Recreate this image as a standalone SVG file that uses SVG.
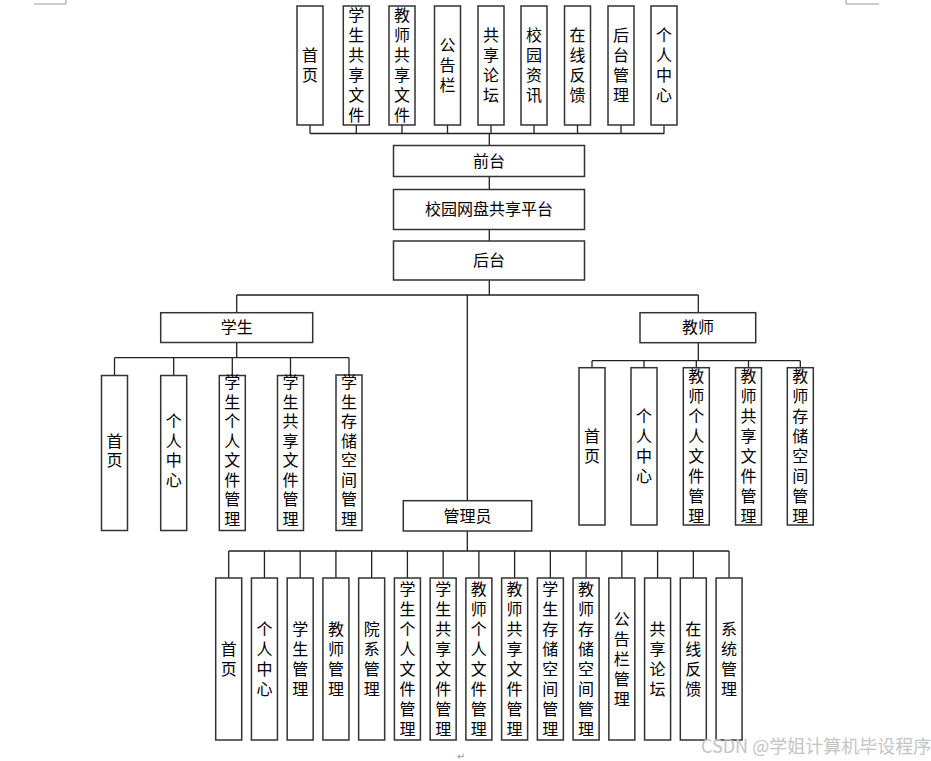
<svg xmlns="http://www.w3.org/2000/svg" width="931" height="761" viewBox="0 0 931 761">
<style>
.box{fill:#fff;stroke:#333;stroke-width:1.5}
.ln{stroke:#222;stroke-width:1.3;fill:none}
.t{font-family:"Noto Sans CJK SC","Noto Sans CJK JP",sans-serif;font-size:16px;fill:#000;text-anchor:middle}
.mark{stroke:#999;stroke-width:1;fill:none}
</style>
<rect width="931" height="761" fill="#fff"/>
<path class="mark" d="M34,4 H66 V0 M846,0 V4 H879"/>
<g id="connectors">
<path class="ln" d="M310,133.5 H664.3 M310,125 V133.5 M356.3,125 V133.5 M402,125 V133.5 M447.5,125 V133.5 M491,125 V133.5 M534,125 V133.5 M577.5,125 V133.5 M621,125 V133.5 M664,125 V133.5"/>
<path class="ln" d="M489.3,133.5 V145.5 M489.3,176.5 V189.5 M489.3,229.5 V241 M489.3,280 V295"/>
<path class="ln" d="M236.7,295 H698.3 M236.7,295 V312.7 M698.3,295 V312.7 M467.3,295 V500.7"/>
<path class="ln" d="M236.7,342.5 V357.7 M114.5,357.7 H349 M114.5,357.7 V375.5 M173.7,357.7 V375.5 M232.3,357.7 V375.5 M290.5,357.7 V375.5 M349,357.7 V375.5"/>
<path class="ln" d="M698.3,342.7 V360.7 M592,360.7 H800.3 M592,360.7 V367.7 M644,360.7 V367.7 M696.3,360.7 V367.7 M748.5,360.7 V367.7 M800.3,360.7 V367.7"/>
<path class="ln" d="M467.3,531 V551 M228.7,551 H729.06 M228.7,551 V578 M264.44,551 V578 M300.18,551 V578 M335.92,551 V578 M371.66,551 V578 M407.4,551 V578 M443.14,551 V578 M478.88,551 V578 M514.62,551 V578 M550.36,551 V578 M586.1,551 V578 M621.84,551 V578 M657.58,551 V578 M693.32,551 V578 M729.06,551 V578"/>
</g>
<g id="f-home"><rect class="box" x="297" y="6" width="26" height="119"/><text class="t" x="310" y="61.1"><tspan x="310">首</tspan><tspan x="310" dy="20">页</tspan></text></g>
<g id="f-stushare"><rect class="box" x="343.3" y="6" width="26" height="119"/><text class="t" x="356.3" y="21.1"><tspan x="356.3">学</tspan><tspan x="356.3" dy="20">生</tspan><tspan x="356.3" dy="20">共</tspan><tspan x="356.3" dy="20">享</tspan><tspan x="356.3" dy="20">文</tspan><tspan x="356.3" dy="20">件</tspan></text></g>
<g id="f-teashare"><rect class="box" x="389" y="6" width="26" height="119"/><text class="t" x="402" y="21.1"><tspan x="402">教</tspan><tspan x="402" dy="20">师</tspan><tspan x="402" dy="20">共</tspan><tspan x="402" dy="20">享</tspan><tspan x="402" dy="20">文</tspan><tspan x="402" dy="20">件</tspan></text></g>
<g id="f-notice"><rect class="box" x="434.5" y="6" width="26" height="119"/><text class="t" x="447.5" y="51.1"><tspan x="447.5">公</tspan><tspan x="447.5" dy="20">告</tspan><tspan x="447.5" dy="20">栏</tspan></text></g>
<g id="f-forum"><rect class="box" x="478" y="6" width="26" height="119"/><text class="t" x="491" y="41.1"><tspan x="491">共</tspan><tspan x="491" dy="20">享</tspan><tspan x="491" dy="20">论</tspan><tspan x="491" dy="20">坛</tspan></text></g>
<g id="f-news"><rect class="box" x="521" y="6" width="26" height="119"/><text class="t" x="534" y="41.1"><tspan x="534">校</tspan><tspan x="534" dy="20">园</tspan><tspan x="534" dy="20">资</tspan><tspan x="534" dy="20">讯</tspan></text></g>
<g id="f-feedback"><rect class="box" x="564.5" y="6" width="26" height="119"/><text class="t" x="577.5" y="41.1"><tspan x="577.5">在</tspan><tspan x="577.5" dy="20">线</tspan><tspan x="577.5" dy="20">反</tspan><tspan x="577.5" dy="20">馈</tspan></text></g>
<g id="f-admin"><rect class="box" x="608" y="6" width="26" height="119"/><text class="t" x="621" y="41.1"><tspan x="621">后</tspan><tspan x="621" dy="20">台</tspan><tspan x="621" dy="20">管</tspan><tspan x="621" dy="20">理</tspan></text></g>
<g id="f-personal"><rect class="box" x="651" y="6" width="26" height="119"/><text class="t" x="664" y="41.1"><tspan x="664">个</tspan><tspan x="664" dy="20">人</tspan><tspan x="664" dy="20">中</tspan><tspan x="664" dy="20">心</tspan></text></g>
<g id="frontend"><rect class="box" x="393.5" y="145.5" width="191" height="31"/><text class="t" x="489" y="166.6">前台</text></g>
<g id="platform"><rect class="box" x="393.5" y="189.5" width="191" height="40"/><text class="t" x="489" y="215.1">校园网盘共享平台</text></g>
<g id="backend"><rect class="box" x="393.5" y="241" width="191" height="39"/><text class="t" x="489" y="266.1">后台</text></g>
<g id="student"><rect class="box" x="160.7" y="312.7" width="152" height="29.8"/><text class="t" x="236.7" y="333.2">学生</text></g>
<g id="s-home"><rect class="box" x="101.5" y="375.5" width="26" height="155"/><text class="t" x="114.5" y="446.85"><tspan x="114.5">首</tspan><tspan x="114.5" dy="19.5">页</tspan></text></g>
<g id="s-personal"><rect class="box" x="160.7" y="375.5" width="26" height="155"/><text class="t" x="173.7" y="427.35"><tspan x="173.7">个</tspan><tspan x="173.7" dy="19.5">人</tspan><tspan x="173.7" dy="19.5">中</tspan><tspan x="173.7" dy="19.5">心</tspan></text></g>
<g id="s-file"><rect class="box" x="219.3" y="375.5" width="26" height="155"/><text class="t" x="232.3" y="388.35"><tspan x="232.3">学</tspan><tspan x="232.3" dy="19.5">生</tspan><tspan x="232.3" dy="19.5">个</tspan><tspan x="232.3" dy="19.5">人</tspan><tspan x="232.3" dy="19.5">文</tspan><tspan x="232.3" dy="19.5">件</tspan><tspan x="232.3" dy="19.5">管</tspan><tspan x="232.3" dy="19.5">理</tspan></text></g>
<g id="s-share"><rect class="box" x="277.5" y="375.5" width="26" height="155"/><text class="t" x="290.5" y="388.35"><tspan x="290.5">学</tspan><tspan x="290.5" dy="19.5">生</tspan><tspan x="290.5" dy="19.5">共</tspan><tspan x="290.5" dy="19.5">享</tspan><tspan x="290.5" dy="19.5">文</tspan><tspan x="290.5" dy="19.5">件</tspan><tspan x="290.5" dy="19.5">管</tspan><tspan x="290.5" dy="19.5">理</tspan></text></g>
<g id="s-storage"><rect class="box" x="336" y="375" width="26" height="155.5"/><text class="t" x="349" y="388.35"><tspan x="349">学</tspan><tspan x="349" dy="19.5">生</tspan><tspan x="349" dy="19.5">存</tspan><tspan x="349" dy="19.5">储</tspan><tspan x="349" dy="19.5">空</tspan><tspan x="349" dy="19.5">间</tspan><tspan x="349" dy="19.5">管</tspan><tspan x="349" dy="19.5">理</tspan></text></g>
<g id="teacher"><rect class="box" x="640" y="312.7" width="115.7" height="30"/><text class="t" x="698" y="333.3">教师</text></g>
<g id="t-home"><rect class="box" x="579" y="367.7" width="26" height="157.3"/><text class="t" x="592" y="441.9"><tspan x="592">首</tspan><tspan x="592" dy="20">页</tspan></text></g>
<g id="t-personal"><rect class="box" x="631" y="367.7" width="26" height="157.3"/><text class="t" x="644" y="421.9"><tspan x="644">个</tspan><tspan x="644" dy="20">人</tspan><tspan x="644" dy="20">中</tspan><tspan x="644" dy="20">心</tspan></text></g>
<g id="t-file"><rect class="box" x="683.3" y="367.7" width="26" height="157.3"/><text class="t" x="696.3" y="381.9"><tspan x="696.3">教</tspan><tspan x="696.3" dy="20">师</tspan><tspan x="696.3" dy="20">个</tspan><tspan x="696.3" dy="20">人</tspan><tspan x="696.3" dy="20">文</tspan><tspan x="696.3" dy="20">件</tspan><tspan x="696.3" dy="20">管</tspan><tspan x="696.3" dy="20">理</tspan></text></g>
<g id="t-share"><rect class="box" x="735.5" y="367.7" width="26" height="157.3"/><text class="t" x="748.5" y="381.9"><tspan x="748.5">教</tspan><tspan x="748.5" dy="20">师</tspan><tspan x="748.5" dy="20">共</tspan><tspan x="748.5" dy="20">享</tspan><tspan x="748.5" dy="20">文</tspan><tspan x="748.5" dy="20">件</tspan><tspan x="748.5" dy="20">管</tspan><tspan x="748.5" dy="20">理</tspan></text></g>
<g id="t-storage"><rect class="box" x="787.3" y="367.7" width="26" height="157.3"/><text class="t" x="800.3" y="381.9"><tspan x="800.3">教</tspan><tspan x="800.3" dy="20">师</tspan><tspan x="800.3" dy="20">存</tspan><tspan x="800.3" dy="20">储</tspan><tspan x="800.3" dy="20">空</tspan><tspan x="800.3" dy="20">间</tspan><tspan x="800.3" dy="20">管</tspan><tspan x="800.3" dy="20">理</tspan></text></g>
<g id="manager"><rect class="box" x="403.3" y="500.7" width="128.4" height="30.3"/><text class="t" x="467.5" y="521.5">管理员</text></g>
<g id="m-home"><rect class="box" x="215.7" y="578" width="26" height="162"/><text class="t" x="228.7" y="654.6"><tspan x="228.7">首</tspan><tspan x="228.7" dy="20">页</tspan></text></g>
<g id="m-personal"><rect class="box" x="251.44" y="578" width="26" height="162"/><text class="t" x="264.44" y="634.6"><tspan x="264.44">个</tspan><tspan x="264.44" dy="20">人</tspan><tspan x="264.44" dy="20">中</tspan><tspan x="264.44" dy="20">心</tspan></text></g>
<g id="m-student"><rect class="box" x="287.18" y="578" width="26" height="162"/><text class="t" x="300.18" y="634.6"><tspan x="300.18">学</tspan><tspan x="300.18" dy="20">生</tspan><tspan x="300.18" dy="20">管</tspan><tspan x="300.18" dy="20">理</tspan></text></g>
<g id="m-teacher"><rect class="box" x="322.92" y="578" width="26" height="162"/><text class="t" x="335.92" y="634.6"><tspan x="335.92">教</tspan><tspan x="335.92" dy="20">师</tspan><tspan x="335.92" dy="20">管</tspan><tspan x="335.92" dy="20">理</tspan></text></g>
<g id="m-dept"><rect class="box" x="358.66" y="578" width="26" height="162"/><text class="t" x="371.66" y="634.6"><tspan x="371.66">院</tspan><tspan x="371.66" dy="20">系</tspan><tspan x="371.66" dy="20">管</tspan><tspan x="371.66" dy="20">理</tspan></text></g>
<g id="m-sfile"><rect class="box" x="394.4" y="578" width="26" height="162"/><text class="t" x="407.4" y="594.6"><tspan x="407.4">学</tspan><tspan x="407.4" dy="20">生</tspan><tspan x="407.4" dy="20">个</tspan><tspan x="407.4" dy="20">人</tspan><tspan x="407.4" dy="20">文</tspan><tspan x="407.4" dy="20">件</tspan><tspan x="407.4" dy="20">管</tspan><tspan x="407.4" dy="20">理</tspan></text></g>
<g id="m-sshare"><rect class="box" x="430.14" y="578" width="26" height="162"/><text class="t" x="443.14" y="594.6"><tspan x="443.14">学</tspan><tspan x="443.14" dy="20">生</tspan><tspan x="443.14" dy="20">共</tspan><tspan x="443.14" dy="20">享</tspan><tspan x="443.14" dy="20">文</tspan><tspan x="443.14" dy="20">件</tspan><tspan x="443.14" dy="20">管</tspan><tspan x="443.14" dy="20">理</tspan></text></g>
<g id="m-tfile"><rect class="box" x="465.88" y="578" width="26" height="162"/><text class="t" x="478.88" y="594.6"><tspan x="478.88">教</tspan><tspan x="478.88" dy="20">师</tspan><tspan x="478.88" dy="20">个</tspan><tspan x="478.88" dy="20">人</tspan><tspan x="478.88" dy="20">文</tspan><tspan x="478.88" dy="20">件</tspan><tspan x="478.88" dy="20">管</tspan><tspan x="478.88" dy="20">理</tspan></text></g>
<g id="m-tshare"><rect class="box" x="501.62" y="578" width="26" height="162"/><text class="t" x="514.62" y="594.6"><tspan x="514.62">教</tspan><tspan x="514.62" dy="20">师</tspan><tspan x="514.62" dy="20">共</tspan><tspan x="514.62" dy="20">享</tspan><tspan x="514.62" dy="20">文</tspan><tspan x="514.62" dy="20">件</tspan><tspan x="514.62" dy="20">管</tspan><tspan x="514.62" dy="20">理</tspan></text></g>
<g id="m-sstorage"><rect class="box" x="537.36" y="578" width="26" height="162"/><text class="t" x="550.36" y="594.6"><tspan x="550.36">学</tspan><tspan x="550.36" dy="20">生</tspan><tspan x="550.36" dy="20">存</tspan><tspan x="550.36" dy="20">储</tspan><tspan x="550.36" dy="20">空</tspan><tspan x="550.36" dy="20">间</tspan><tspan x="550.36" dy="20">管</tspan><tspan x="550.36" dy="20">理</tspan></text></g>
<g id="m-tstorage"><rect class="box" x="573.1" y="578" width="26" height="162"/><text class="t" x="586.1" y="594.6"><tspan x="586.1">教</tspan><tspan x="586.1" dy="20">师</tspan><tspan x="586.1" dy="20">存</tspan><tspan x="586.1" dy="20">储</tspan><tspan x="586.1" dy="20">空</tspan><tspan x="586.1" dy="20">间</tspan><tspan x="586.1" dy="20">管</tspan><tspan x="586.1" dy="20">理</tspan></text></g>
<g id="m-notice"><rect class="box" x="608.84" y="578" width="26" height="162"/><text class="t" x="621.84" y="624.6"><tspan x="621.84">公</tspan><tspan x="621.84" dy="20">告</tspan><tspan x="621.84" dy="20">栏</tspan><tspan x="621.84" dy="20">管</tspan><tspan x="621.84" dy="20">理</tspan></text></g>
<g id="m-forum"><rect class="box" x="644.58" y="578" width="26" height="162"/><text class="t" x="657.58" y="634.6"><tspan x="657.58">共</tspan><tspan x="657.58" dy="20">享</tspan><tspan x="657.58" dy="20">论</tspan><tspan x="657.58" dy="20">坛</tspan></text></g>
<g id="m-feedback"><rect class="box" x="680.32" y="578" width="26" height="162"/><text class="t" x="693.32" y="634.6"><tspan x="693.32">在</tspan><tspan x="693.32" dy="20">线</tspan><tspan x="693.32" dy="20">反</tspan><tspan x="693.32" dy="20">馈</tspan></text></g>
<g id="m-system"><rect class="box" x="716.06" y="578" width="26" height="162"/><text class="t" x="729.06" y="634.6"><tspan x="729.06">系</tspan><tspan x="729.06" dy="20">统</tspan><tspan x="729.06" dy="20">管</tspan><tspan x="729.06" dy="20">理</tspan></text></g>
<text x="461" y="760" font-family="'DejaVu Sans',sans-serif" font-size="10" fill="#999" text-anchor="middle">↵</text>
<text x="701" y="753" font-family="'Noto Sans CJK SC',sans-serif" font-size="18" fill="#c4c4c4">CSDN @学姐计算机毕设程序</text>
</svg>
